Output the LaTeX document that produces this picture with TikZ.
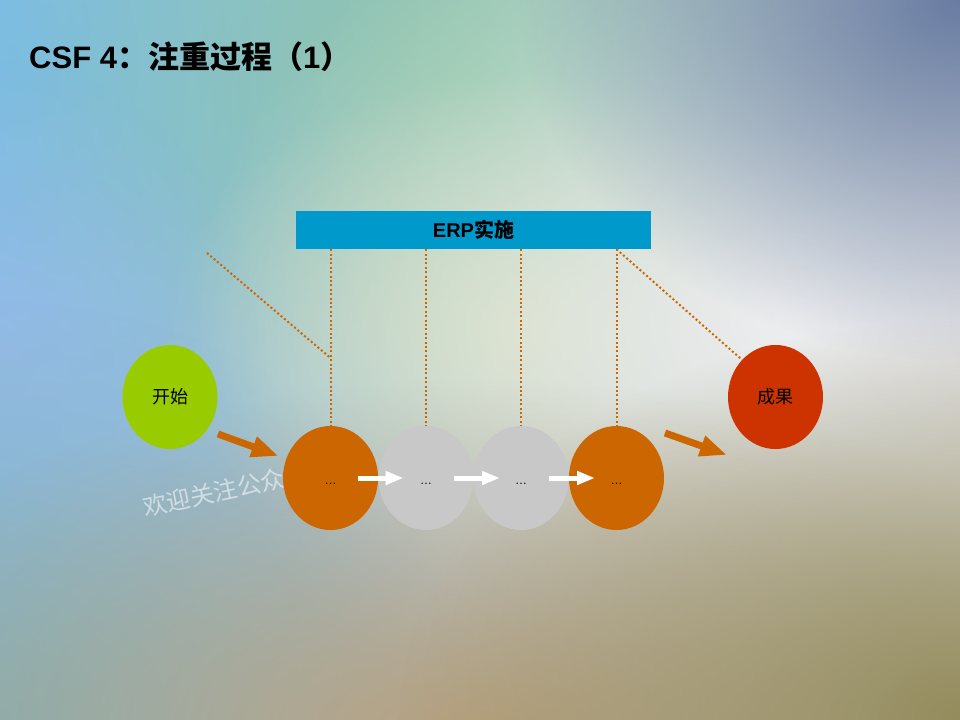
\documentclass[tikz,border=0pt]{standalone}
\usepackage{fontspec}
\setmainfont{Liberation Sans}
\newfontfamily\cjk{Noto Sans CJK SC}
\usetikzlibrary{arrows.meta, shapes.geometric, fadings, positioning}
\pgfdeclarelayer{back}
\pgfdeclarelayer{lines}
\pgfsetlayers{back,lines,main}
\tikzfading[name=glow, inner color=transparent!0, outer color=transparent!100]
\definecolor{csforange}{HTML}{CC6600}
\definecolor{csfgray}{HTML}{C8C8C8}
\definecolor{startgreen}{HTML}{99CC00}
\definecolor{resultred}{HTML}{CC3300}
\definecolor{erpblue}{HTML}{0099CC}
\definecolor{bgleft}{HTML}{8CC0E6}
\definecolor{bgmid}{HTML}{A8CCA8}
\definecolor{bgright}{HTML}{C8C8CC}
\definecolor{bgskyl}{HTML}{78BCEE}
\definecolor{bggreen}{HTML}{88C4A0}
\definecolor{bgslate}{HTML}{6478A0}
\definecolor{bglime}{HTML}{D4DCAC}
\definecolor{bgwhite}{HTML}{EEEEF0}
\definecolor{bglilac}{HTML}{A4B8E6}
\definecolor{bgteal}{HTML}{80B0B8}
\definecolor{bgbrown}{HTML}{B8A07C}
\definecolor{bgolive}{HTML}{948C5C}
\newcommand{\cn}[1]{{\cjk #1}}
\newcommand{\fsz}[1]{\fontsize{#1bp}{#1bp}\selectfont}
\newcommand{\blob}[5]{\fill[color=#1, opacity=#2, path fading=glow] (#3) ellipse [x radius=#4, y radius=#5];}

\begin{document}
\begin{tikzpicture}[x=1bp, y=-1bp]
\tikzset{
  oval/.style={ellipse, minimum width=95bp, minimum height=104bp, inner sep=0pt},
  stage/.style={oval, text height=14bp, text depth=2bp, font=\fsz{12}},
  dotline/.style={draw=csforange, line width=2bp, dash pattern=on 2bp off 2.4bp},
  whitearr/.style={draw=white, line width=5bp, -{Triangle[length=18bp, width=13bp]}},
  bigarr/.style={draw=csforange, line width=7bp, -{Triangle[length=27bp, width=20bp]}}
}
\useasboundingbox (0,0) rectangle (960,720);

% nền
\begin{pgfonlayer}{back}
\begin{scope}
\clip (0,0) rectangle (960,720);
\shade[left color=bgleft, middle color=bgmid, right color=bgright] (0,0) rectangle (960,720);
\blob{bgskyl}{0.9}{0,60}{420}{420}
\blob{bggreen}{0.9}{470,80}{560}{420}
\blob{bglime}{0.8}{520,330}{360}{260}
\blob{bgwhite}{1}{790,320}{600}{480}
\blob{bgslate}{0.95}{960,0}{440}{360}
\blob{bglilac}{0.5}{0,360}{260}{300}
\blob{bgteal}{0.9}{0,720}{480}{420}
\blob{bgbrown}{1}{480,740}{700}{360}
\blob{bgolive}{1}{960,720}{560}{400}
\end{scope}
\node[text=white, text opacity=0.55, rotate=12, font=\cjk\fsz{24}] (wm) at (214,493) {欢迎关注公众};
\end{pgfonlayer}

% tiêu đề
\node[anchor=base west, inner sep=0pt, font=\bfseries\fsz{31}] (title) at (29,69) {CSF 4\cn{：注重过程（}1\cn{）}};

% ERP实施
\node[fill=erpblue, minimum width=355bp, minimum height=38bp, inner sep=0pt, font=\bfseries\fsz{20}] (erp) at (473.5,230) {ERP\cn{实施}};

% các vòng
\node[oval, fill=startgreen, font=\cjk\fsz{18}] (start) at (170,397) {开始};
\node[stage, fill=csforange] (s1) at (330.5,478) {…};
\node[stage, fill=csfgray] (s2) at (426,478) {…};
\node[stage, fill=csfgray] (s3) at (521,478) {…};
\node[stage, fill=csforange] (s4) at (616.5,478) {…};
\node[oval, fill=resultred, font=\cjk\fsz{18}] (res) at (775.5,397) {成果};

% đường chấm
\begin{pgfonlayer}{lines}
\coordinate (lt) at (207,253);
\path (s1) ++(0,-120) coordinate (lj);
\draw[dotline] (lt) -- (lj);
\draw[dotline] (erp.south -| s1) -- (s1.north);
\draw[dotline] (erp.south -| s2) -- (s2.north);
\draw[dotline] (erp.south -| s3) -- (s3.north);
\draw[dotline] (erp.south -| s4) -- (s4.north);
\draw[dotline] (erp.south -| s4) -- (res.132);
\end{pgfonlayer}

% mũi tên
\draw[whitearr] ([xshift=27.5bp]s1.center) -- ([xshift=-22.5bp]s2.center);
\draw[whitearr] ([xshift=27.5bp]s2.center) -- ([xshift=-21bp]s3.center);
\draw[whitearr] ([xshift=28bp]s3.center) -- ([xshift=-21.5bp]s4.center);
\draw[bigarr] ([shift={(48,37)}]start.center) -- ([shift={(-52,-22)}]s1.center);
\draw[bigarr] ([shift={(48.5,-45)}]s4.center) -- ([shift={(-48.5,58)}]res.center);
\end{tikzpicture}
\end{document}
